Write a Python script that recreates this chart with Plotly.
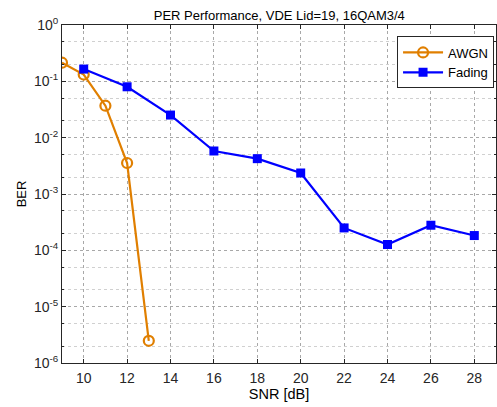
import plotly.graph_objects as go

snr_awgn = [9, 10, 11, 12, 13]
ber_awgn = [0.214, 0.132, 0.0369, 0.00355, 2.48e-6]
snr_fading = [10, 12, 14, 16, 18, 20, 22, 24, 26, 28]
ber_fading = [0.165, 0.080, 0.0252, 0.0058, 0.00424, 0.00236, 2.5e-4, 1.27e-4, 2.79e-4, 1.83e-4]
x_ticks = [10, 12, 14, 16, 18, 20, 22, 24, 26, 28]
y_tickvals = [1, 0.1, 0.01, 1e-3, 1e-4, 1e-5, 1e-6]
y_ticktext = ["10<sup>0</sup>", "10<sup>-1</sup>", "10<sup>-2</sup>", "10<sup>-3</sup>",
              "10<sup>-4</sup>", "10<sup>-5</sup>", "10<sup>-6</sup>"]

FONT = "Liberation Sans, Arial, sans-serif"
orange = "#E07F00"
blue = "#0000FF"

fig = go.Figure()
fig.add_trace(go.Scatter(
    x=snr_awgn, y=ber_awgn, name="AWGN", mode="lines+markers",
    line=dict(color=orange, width=2.2),
    marker=dict(symbol="circle-open", size=10, color=orange, line=dict(width=2.2, color=orange)),
))
fig.add_trace(go.Scatter(
    x=snr_fading, y=ber_fading, name="Fading", mode="lines+markers",
    line=dict(color=blue, width=2.2),
    marker=dict(symbol="square", size=9, color=blue),
))

fig.update_layout(
    width=497, height=407,
    margin=dict(l=62, r=1, t=25, b=44),
    paper_bgcolor="white", plot_bgcolor="white",
    font=dict(family=FONT, size=14, color="#262626"),
    title=dict(text="PER Performance, VDE Lid=19, 16QAM3/4", x=0.562, xanchor="center",
               y=1 - 15 / 407, yanchor="middle", font=dict(size=13, color="#000")),
    legend=dict(x=0.772, y=0.966, xanchor="left", yanchor="top",
                bgcolor="white", bordercolor="#262626", borderwidth=1,
                font=dict(size=13, color="#000"), itemwidth=40, tracegroupgap=0),
    showlegend=True,
)
fig.update_xaxes(
    range=[9, 29], tickvals=x_ticks, ticks="inside", ticklen=4, tickcolor="#262626",
    tickfont=dict(size=14), ticklabelstandoff=2,
    showline=True, linecolor="#262626", linewidth=1, mirror="ticks",
    showgrid=True, gridcolor="#a8a8a8", griddash="dot", gridwidth=1,
    zeroline=False,
    title=dict(text="SNR [dB]", standoff=4, font=dict(size=14.5, color="#000")),
)
fig.update_yaxes(
    type="log", range=[-6, 0], tickvals=y_tickvals, ticktext=y_ticktext,
    ticks="inside", ticklen=4, tickcolor="#262626",
    tickfont=dict(size=14),
    showline=True, linecolor="#262626", linewidth=1, mirror="ticks",
    showgrid=True, gridcolor="#a8a8a8", griddash="dot", gridwidth=1,
    minor=dict(ticks="inside", ticklen=2, tickcolor="#262626", showgrid=True,
               gridcolor="#d0d0d0", griddash="dot", gridwidth=1),
    zeroline=False,
    title=dict(text="BER", standoff=4, font=dict(size=13, color="#000")),
)

fig.write_html("out.html")
